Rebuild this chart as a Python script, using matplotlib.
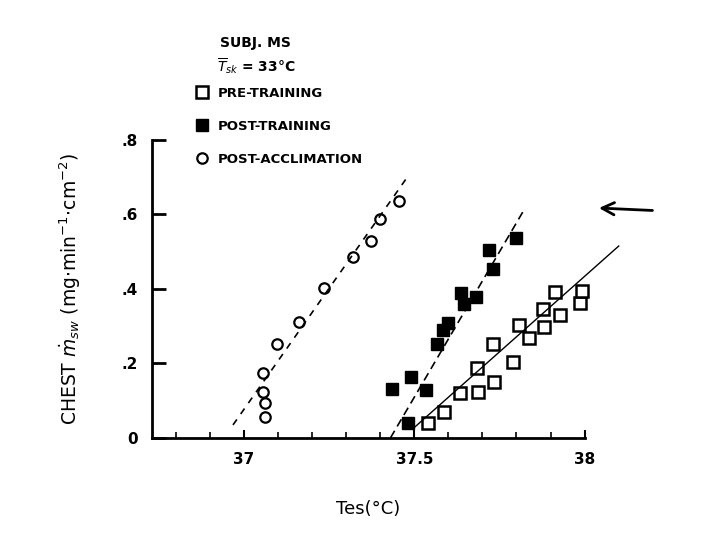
import matplotlib.pyplot as plt
from matplotlib.ticker import MultipleLocator

# ---------------------------------------------------------------------------
# DATA
# ---------------------------------------------------------------------------
# pre-training, open squares
pre_x = [37.541, 37.588, 37.635, 37.688, 37.685, 37.735, 37.732, 37.79,
         37.806, 37.838, 37.879, 37.882, 37.929, 37.912, 37.985, 37.991]
pre_y = [0.04, 0.069, 0.12, 0.123, 0.187, 0.149, 0.251, 0.203,
         0.304, 0.269, 0.347, 0.299, 0.331, 0.392, 0.363, 0.395]

# post-training, filled squares
post_x = [37.435, 37.491, 37.535, 37.482, 37.568, 37.585, 37.6,
          37.638, 37.647, 37.68, 37.732, 37.72, 37.8]
post_y = [0.131, 0.163, 0.128, 0.04, 0.253, 0.29, 0.309,
          0.389, 0.36, 0.377, 0.453, 0.504, 0.536]

# post-acclimation, open circles
acc_x = [37.056, 37.056, 37.062, 37.062, 37.097, 37.162, 37.235,
         37.32, 37.373, 37.4, 37.456]
acc_y = [0.173, 0.123, 0.093, 0.056, 0.253, 0.312, 0.403,
         0.485, 0.528, 0.587, 0.635]

# regression lines (end points)
pre_fit_x = [37.5, 38.1]
pre_fit_y = [0.028, 0.515]
post_fit_x = [37.43, 37.824]
post_fit_y = [0.0, 0.615]
acc_fit_x = [36.968, 37.485]
acc_fit_y = [0.035, 0.707]

x_ticks = [37, 37.5, 38]
x_labels = ["37", "37.5", "38"]
y_ticks = [0, 0.2, 0.4, 0.6, 0.8]
y_labels = ["0", ".2", ".4", ".6", ".8"]

# ---------------------------------------------------------------------------
# PLOT
# ---------------------------------------------------------------------------
fig = plt.figure(figsize=(7.2, 5.4), dpi=100)
ax = fig.add_axes([0.211, 0.189, 0.601, 0.552])

ax.plot(pre_x, pre_y, "s", ms=9, mfc="white", mec="black", mew=1.8,
        label="PRE-TRAINING", clip_on=False)
ax.plot(post_x, post_y, "s", ms=9, mfc="black", mec="black",
        label="POST-TRAINING", clip_on=False)
ax.plot(acc_x, acc_y, "o", ms=7.5, mfc="white", mec="black", mew=1.6,
        label="POST-ACCLIMATION", clip_on=False)

ax.plot(pre_fit_x, pre_fit_y, "-", color="black", lw=1, clip_on=False)
ax.plot(post_fit_x, post_fit_y, color="black", lw=1.2, ls=(0, (5, 3)),
        clip_on=False)
ax.plot(acc_fit_x, acc_fit_y, color="black", lw=1.2, ls=(0, (4, 4)),
        clip_on=False)

ax.set_xlim(36.73, 38.0)
ax.set_ylim(0, 0.8)
ax.spines["top"].set_visible(False)
ax.spines["right"].set_visible(False)
ax.spines["left"].set_linewidth(2)
ax.spines["bottom"].set_linewidth(2)

ax.set_xticks(x_ticks)
ax.set_xticklabels(x_labels, fontsize=11, fontweight="bold")
ax.xaxis.set_minor_locator(MultipleLocator(0.1))
ax.set_yticks(y_ticks)
ax.set_yticklabels(y_labels, fontsize=11, fontweight="bold")
ax.tick_params(axis="x", which="major", direction="in", length=6, width=1.5, pad=10)
ax.tick_params(axis="x", which="minor", direction="in", length=4, width=1.2)
ax.tick_params(axis="y", direction="in", length=10, width=2, pad=10)

ax.set_xlabel("Tes(°C)", fontsize=13, labelpad=24)
ax.set_ylabel(r"CHEST $\dot{m}_{sw}$ (mg$\cdot$min$^{-1}$$\cdot$cm$^{-2}$)",
              fontsize=13.5, labelpad=28)

# header text and legend
fig.text(0.305, 0.92, "SUBJ. MS", fontsize=10, fontweight="bold",
         va="center")
fig.text(0.302, 0.877, r"$\overline{T}_{sk}$ = 33°C", fontsize=10,
         fontweight="bold", va="center")
ax.legend(loc="upper left", bbox_to_anchor=(0.262, 0.851),
          bbox_transform=fig.transFigure, frameon=False,
          prop={"size": 9.5, "weight": "bold"}, labelspacing=1.5,
          handletextpad=0.7, handlelength=1.0, borderpad=0)

# hand-drawn arrow on the right
ax.annotate("", xy=(0.828, 0.615), xytext=(0.91, 0.61),
            xycoords="figure fraction", textcoords="figure fraction",
            arrowprops=dict(arrowstyle="->", lw=2, color="black",
                            mutation_scale=22))

plt.savefig("out.png", dpi=100)
